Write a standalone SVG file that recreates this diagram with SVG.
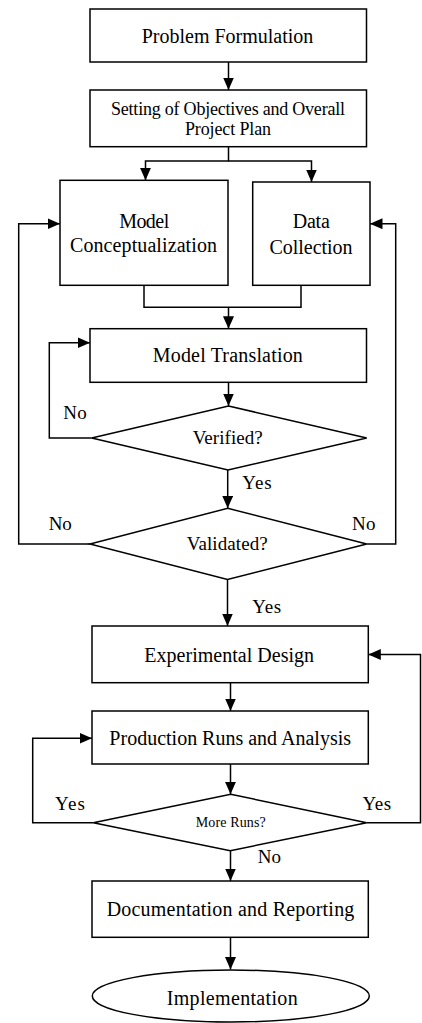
<svg xmlns="http://www.w3.org/2000/svg" width="422" height="1023" viewBox="0 0 422 1023">
  <style>
    .box { fill: #ffffff; stroke: #000000; stroke-width: 1.5; }
    .wire { fill: none; stroke: #000000; stroke-width: 1.5; }
    .lbl { font-family: 'Liberation Serif', 'DejaVu Serif', 'Times New Roman', Times, serif; font-size: 19px; fill: #000000; text-anchor: middle; }
    .lg { font-size: 20px; }
    .sm { font-size: 18px; }
    .xs { font-size: 14px; }
  </style>
  <defs>
    <marker id="arrow" markerUnits="userSpaceOnUse" markerWidth="13" markerHeight="12" refX="12.5" refY="5.5" orient="auto">
      <path d="M0,0 L12.5,5.5 L0,11 z" fill="#000000"/>
    </marker>
  </defs>

  <rect width="422" height="1023" fill="#ffffff"/>

  <!-- connectors -->
  <g id="connectors" class="wire">
    <path d="M228.5,62 V90" marker-end="url(#arrow)"/>
    <path d="M228.5,146.7 V161 H145.5 V180.3" marker-end="url(#arrow)"/>
    <path d="M228.5,161 H311.5 V182" marker-end="url(#arrow)"/>
    <path d="M144,285.3 V307.3 H301 V285.3"/>
    <path d="M228.5,307.3 V328.7" marker-end="url(#arrow)"/>
    <path d="M228.5,382.3 V406" marker-end="url(#arrow)"/>
    <path d="M91.7,438 H49.3 V342.7 H90" marker-end="url(#arrow)"/>
    <path d="M227.7,470 V508.3" marker-end="url(#arrow)"/>
    <path d="M90,544 H18.7 V223.7 H60" marker-end="url(#arrow)"/>
    <path d="M366.7,544 H395.7 V223.7 H370" marker-end="url(#arrow)"/>
    <path d="M227.5,579.5 V626" marker-end="url(#arrow)"/>
    <path d="M230.5,682.7 V711" marker-end="url(#arrow)"/>
    <path d="M230.5,764 V794.3" marker-end="url(#arrow)"/>
    <path d="M93.3,822.7 H32.7 V738.3 H92" marker-end="url(#arrow)"/>
    <path d="M366.7,822.7 H420.5 V654.5 H368.3" marker-end="url(#arrow)"/>
    <path d="M230.5,850.7 V881" marker-end="url(#arrow)"/>
    <path d="M230.5,937.3 V969.5" marker-end="url(#arrow)"/>
  </g>

  <!-- edge labels -->
  <g id="edge-labels" class="lbl">
    <text x="75" y="419" textLength="23.7">No</text>
    <text x="257" y="489" textLength="29.4">Yes</text>
    <text x="60.3" y="529.7" textLength="23">No</text>
    <text x="363.8" y="529.7" textLength="23.5">No</text>
    <text x="266.7" y="612.7" textLength="28.7">Yes</text>
    <text x="70" y="810" textLength="30">Yes</text>
    <text x="376.8" y="810" textLength="28.5">Yes</text>
    <text x="269.3" y="863.3" textLength="23.3">No</text>
  </g>

  <g id="problem-formulation">
    <rect class="box" x="90" y="9" width="276.5" height="53"/>
    <text class="lbl lg" x="227.5" y="42.7" textLength="171.6">Problem Formulation</text>
  </g>

  <g id="objectives-plan">
    <rect class="box" x="90" y="90" width="276.5" height="56.7"/>
    <text class="lbl sm" x="228" y="115" textLength="234">Setting of Objectives and Overall</text>
    <text class="lbl sm" x="228" y="135" textLength="86">Project Plan</text>
  </g>

  <g id="model-conceptualization">
    <rect class="box" x="60" y="180.3" width="168" height="105"/>
    <text class="lbl lg" x="144.2" y="228.3" textLength="50">Model</text>
    <text class="lbl lg" x="143.5" y="252.3" textLength="147">Conceptualization</text>
  </g>

  <g id="data-collection">
    <rect class="box" x="252.7" y="182" width="117.3" height="103.3"/>
    <text class="lbl lg" x="311.3" y="228.3" textLength="37">Data</text>
    <text class="lbl lg" x="311" y="254" textLength="83">Collection</text>
  </g>

  <g id="model-translation">
    <rect class="box" x="90" y="328.7" width="276.5" height="53.6"/>
    <text class="lbl lg" x="227.8" y="362.3" textLength="150">Model Translation</text>
  </g>

  <g id="verified">
    <polygon class="box" points="228.5,406 366.7,438 228,470 91.7,438"/>
    <text class="lbl" x="227.7" y="444.3" textLength="70">Verified?</text>
  </g>

  <g id="validated">
    <polygon class="box" points="227.7,508.3 366.7,544 227.5,579.5 90,544"/>
    <text class="lbl" x="227.2" y="550" textLength="81">Validated?</text>
  </g>

  <g id="experimental-design">
    <rect class="box" x="92" y="626" width="276.3" height="56.7"/>
    <text class="lbl lg" x="229.2" y="661.7" textLength="169.7">Experimental Design</text>
  </g>

  <g id="production-runs">
    <rect class="box" x="92" y="711" width="276.3" height="53"/>
    <text class="lbl lg" x="230.2" y="745" textLength="241.7">Production Runs and Analysis</text>
  </g>

  <g id="more-runs">
    <polygon class="box" points="230.7,794.3 366.7,822.7 230.3,850.7 93.3,822.7"/>
    <text class="lbl xs" x="230.7" y="827.3" textLength="70">More Runs?</text>
  </g>

  <g id="documentation">
    <rect class="box" x="92" y="881" width="276.3" height="56.3"/>
    <text class="lbl lg" x="230.5" y="916" textLength="247.7">Documentation and Reporting</text>
  </g>

  <g id="implementation">
    <ellipse class="box" cx="230.8" cy="996" rx="138.5" ry="26"/>
    <text class="lbl lg" x="232.2" y="1005" textLength="131">Implementation</text>
  </g>
</svg>
